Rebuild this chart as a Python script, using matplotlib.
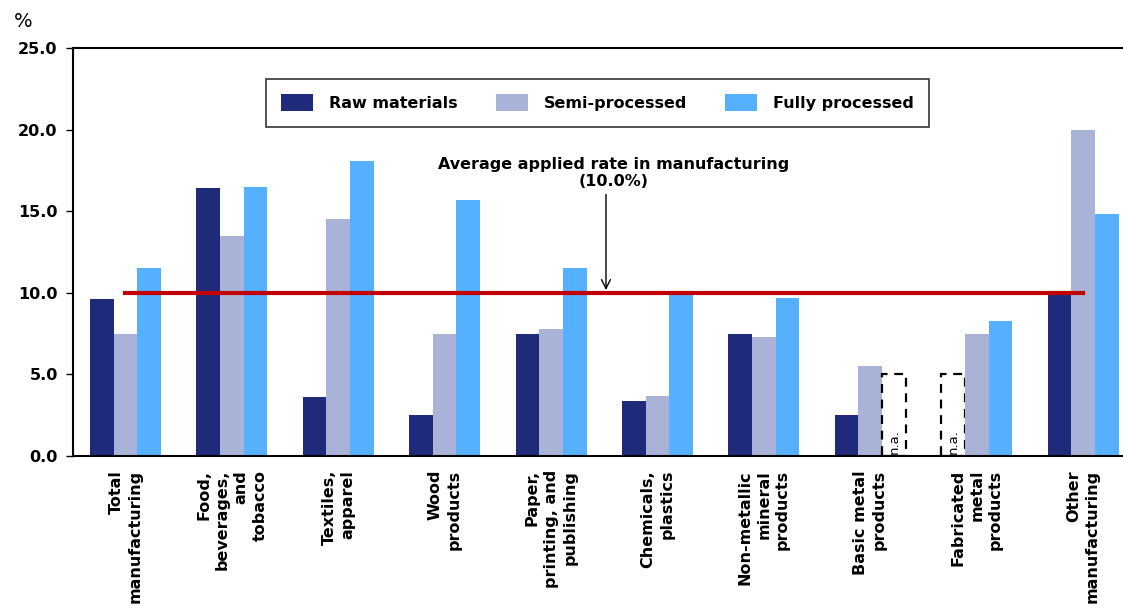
import matplotlib
matplotlib.use("Agg")
import matplotlib.pyplot as plt
import numpy as np
from matplotlib.patches import Patch

categories = ["Total\nmanufacturing", "Food,\nbeverages,\nand\ntobacco", "Textiles,\napparel",
              "Wood\nproducts", "Paper,\nprinting, and\npublishing", "Chemicals,\nplastics",
              "Non-metallic\nmineral\nproducts", "Basic metal\nproducts", "Fabricated\nmetal\nproducts",
              "Other\nmanufacturing"]
series = ["Raw materials", "Semi-processed", "Fully processed"]
raw = [9.6, 16.4, 3.6, 2.5, 7.5, 3.4, 7.5, 2.5, np.nan, 10.0]
semi = [7.5, 13.5, 14.5, 7.5, 7.8, 3.7, 7.3, 5.5, 7.5, 20.0]
full = [11.5, 16.5, 18.1, 15.7, 11.5, 10.0, 9.7, np.nan, 8.3, 14.8]
avg_rate = 10.0
na_height = 5.0
colors = ["#1F2A7A", "#A9B3D8", "#55B1FF"]

plt.rcParams['font.family'] = ['DejaVu Sans']
fig = plt.figure(figsize=(11.23, 6.08), dpi=100)
ax = fig.add_axes([0.065, 0.25, 0.935, 0.671])

x = np.arange(len(categories))
w = 0.222
for i, (vals, c) in enumerate(zip([raw, semi, full], colors)):
    pos = x + (i - 1) * w
    vals = np.array(vals, dtype=float)
    ok = ~np.isnan(vals)
    ax.bar(pos[ok], vals[ok], width=w, color=c, zorder=2)
    # n.a. placeholders
    for p in pos[~ok]:
        ax.bar(p, na_height, width=w, facecolor="white", edgecolor="black",
               linestyle=(0, (4, 3)), linewidth=1.6, zorder=2)
        ax.text(p, 0.15, "n.a.", rotation=90, ha="center", va="bottom", fontsize=9.5)

ax.plot([x[0], x[-1]], [avg_rate, avg_rate], color="#C00000", lw=3, zorder=3)

arrow_x = 4.516
ax.annotate("", xy=(arrow_x, avg_rate), xytext=(arrow_x, 16.2),
            arrowprops=dict(arrowstyle="->", color="black", lw=1, mutation_scale=16), zorder=4)
ax.text(arrow_x + 0.07, 16.35, "Average applied rate in manufacturing\n(10.0%)",
        ha="center", va="bottom", fontsize=11.5, fontweight="bold", linespacing=1.15)

ax.set_ylim(0, 25)
ax.set_xlim(-0.493, 9.375)
ax.set_yticks(np.arange(0, 25.1, 5))
ax.set_yticklabels(["%.1f" % v for v in np.arange(0, 25.1, 5)], fontsize=11.5, fontweight="bold")
ax.set_xticks(x)
ax.set_xticklabels(categories, rotation=90, fontsize=11.5, fontweight="bold",
                   va="top", ha="center", multialignment="right", linespacing=1.3)
ax.tick_params(axis="x", length=0, pad=10)
ax.tick_params(axis="y", length=5, width=1, pad=6)
ax.spines["right"].set_visible(False)
for s in ["top", "left", "bottom"]:
    ax.spines[s].set_linewidth(1.5)

handles = [Patch(facecolor=c, edgecolor="none") for c in colors]
leg = ax.legend(handles, series, loc="center", bbox_to_anchor=(0.4995, 0.866),
                ncol=3, frameon=True, fancybox=False, edgecolor="black",
                prop={"size": 11.5, "weight": "bold"}, handlelength=2.0, handleheight=1.3,
                handletextpad=1.0, columnspacing=2.4, borderpad=0.95, borderaxespad=0)
leg.get_frame().set_linewidth(1.2)

fig.text(0.012, 0.955, "%", fontsize=14)

fig.savefig("out.png", dpi=100)
